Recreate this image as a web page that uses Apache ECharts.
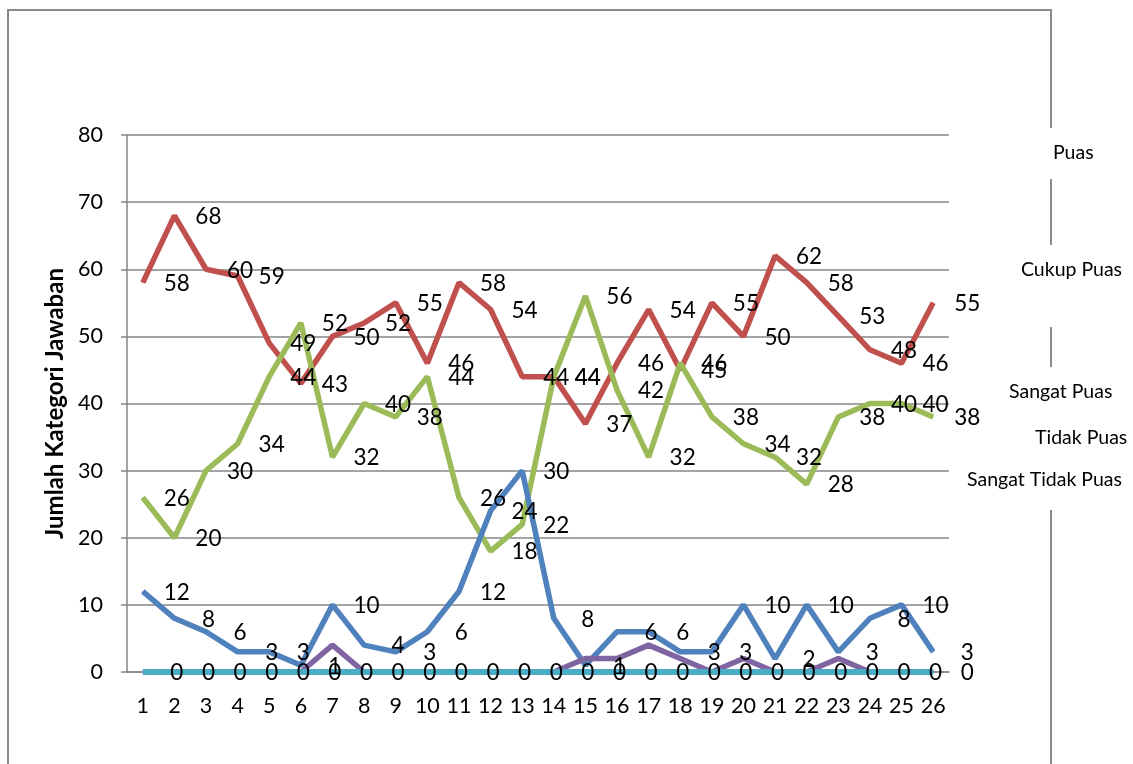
<!DOCTYPE html>
<html>
<head>
<meta charset="utf-8">
<script src="https://cdn.jsdelivr.net/npm/echarts@6/dist/echarts.min.js"></script>
<style>
html,body{margin:0;padding:0;background:#fff;}
#chart{width:1133px;height:764px;}
</style>
</head>
<body>
<div id="chart"></div>
<script>
const categories = ['1','2','3','4','5','6','7','8','9','10','11','12','13','14','15','16','17','18','19','20','21','22','23','24','25','26'];
const seriesNames = ['Puas','Cukup Puas','Sangat Puas','Tidak Puas','Sangat Tidak Puas'];
const puas = [12,8,6,3,3,1,10,4,3,6,12,24,30,8,1,6,6,3,3,10,2,10,3,8,10,3];
const cukupPuas = [58,68,60,59,49,43,50,52,55,46,58,54,44,44,37,46,54,45,55,50,62,58,53,48,46,55];
const sangatPuas = [26,20,30,34,44,52,32,40,38,44,26,18,22,44,56,42,32,46,38,34,32,28,38,40,40,38];
const tidakPuas = [0,0,0,0,0,0,4,0,0,0,0,0,0,0,2,2,4,2,0,2,0,0,2,0,0,0];
const sangatTidakPuas = [0,0,0,0,0,0,0,0,0,0,0,0,0,0,0,0,0,0,0,0,0,0,0,0,0,0];
const yMin = 0, yMax = 80, yStep = 10;

const colors = ['#4F81BD','#C0504D','#9BBB59','#8064A2','#4BACC6'];
const FONT = 'Lato, "Noto Sans", sans-serif';

function mkSeries(name, data, color, showLabel, width) {
  return {
    name: name,
    type: 'line',
    data: data,
    symbol: 'circle',
    symbolSize: 1,
    showSymbol: true,
    lineStyle: { color: color, width: width },
    itemStyle: { color: color },
    emphasis: { disabled: true },
    label: {
      show: showLabel,
      position: 'inside',
      offset: [34, 1],
      color: '#000',
      fontSize: 22.5,
      fontFamily: FONT
    },
    animation: false
  };
}

function mkLegend(name, left, top, padding) {
  return {
    data: [name],
    left: left,
    top: top,
    icon: 'none',
    itemWidth: 0,
    itemHeight: 22,
    itemGap: 0,
    padding: padding,
    backgroundColor: '#fff',
    selectedMode: false,
    textStyle: { fontSize: 19.5, lineHeight: 22, color: '#000', fontFamily: FONT }
  };
}

const chart = echarts.init(document.getElementById('chart'));
chart.setOption({
  animation: false,
  backgroundColor: '#fff',
  color: colors,
  graphic: [{
    type: 'rect',
    z: 0,
    shape: { x: 8, y: 10, width: 1043, height: 820 },
    style: { fill: 'none', stroke: '#8a8a8a', lineWidth: 2 }
  }],
  legend: [
    mkLegend(seriesNames[0], 1044, 128, [14, 4, 15, 4]),
    mkLegend(seriesNames[1], 1012, 245, [14, 4, 46, 4]),
    mkLegend(seriesNames[2], 1000, 367, [14, 4, 28, 4]),
    mkLegend(seriesNames[3], 1026, 419, [8, 4, 13, 4]),
    mkLegend(seriesNames[4], 958, 461, [8, 4, 19, 4])
  ],
  grid: { left: 127, right: 184, top: 135, bottom: 92, containLabel: false },
  xAxis: {
    type: 'category',
    data: categories,
    boundaryGap: true,
    axisLine: { show: true, lineStyle: { color: '#868686', width: 1.5 } },
    axisTick: { show: false },
    axisLabel: { color: '#000', fontSize: 21.5, margin: 23, fontFamily: FONT, interval: 0 }
  },
  yAxis: {
    type: 'value',
    min: yMin,
    max: yMax,
    interval: yStep,
    name: 'Jumlah Kategori Jawaban',
    nameLocation: 'middle',
    nameRotate: 90,
    nameGap: 60,
    nameTextStyle: { color: '#000', fontSize: 24, fontWeight: 'bold', fontFamily: FONT },
    axisLine: { show: true, lineStyle: { color: '#868686', width: 1.5 } },
    axisTick: { show: true, length: 6, lineStyle: { color: '#868686', width: 1.5 } },
    axisLabel: { color: '#000', fontSize: 21.5, margin: 24, fontFamily: FONT },
    splitLine: { show: true, lineStyle: { color: '#868686', width: 1.5 } }
  },
  series: [
    mkSeries(seriesNames[1], cukupPuas, colors[1], true, 5.5),
    mkSeries(seriesNames[2], sangatPuas, colors[2], true, 5.5),
    mkSeries(seriesNames[0], puas, colors[0], true, 5.5),
    mkSeries(seriesNames[3], tidakPuas, colors[3], false, 5.5),
    mkSeries(seriesNames[4], sangatTidakPuas, colors[4], true, 6)
  ]
});
</script>
</body>
</html>
